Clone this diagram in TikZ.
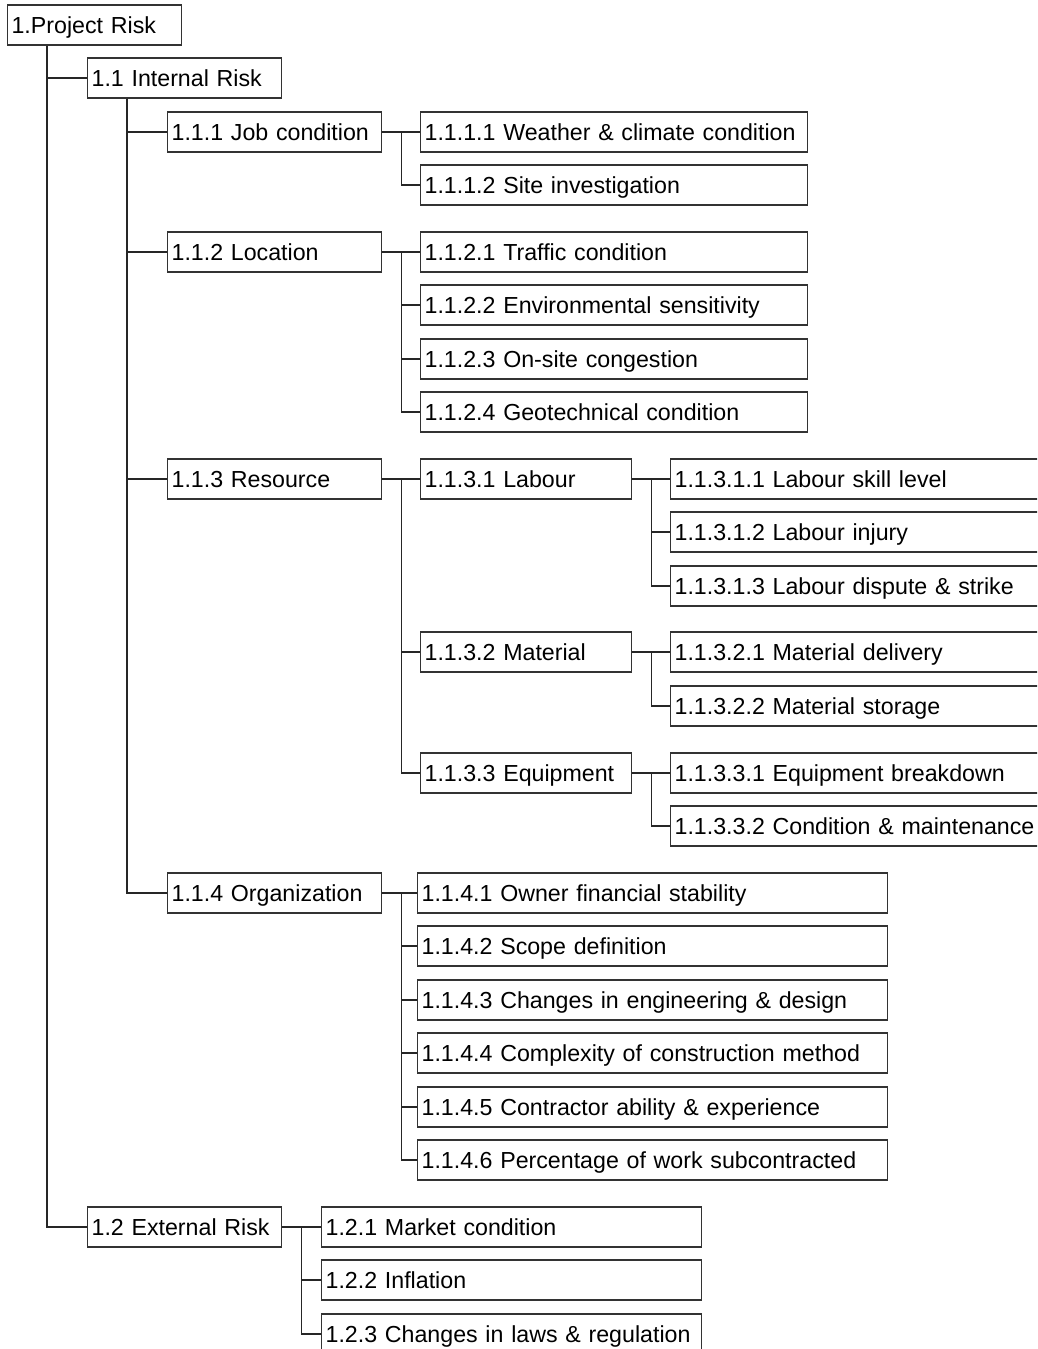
\documentclass[tikz,border=0pt]{standalone}
\usepackage{fontspec}
\setmainfont{Liberation Sans}
\begin{document}
\begin{tikzpicture}[x=1pt, y=-1pt,
  box/.style={draw=black!80, line width=1.2pt, fill=white, anchor=west, align=left,
    text width=#1, inner xsep=4pt, inner ysep=0pt, minimum height=40pt,
    text height=18pt, text depth=2pt, font=\fontsize{23.2}{26}\selectfont},
  link/.style={draw=black!85, line width=1.2pt}]
  \useasboundingbox (0,0) rectangle (1037,1349);
  \clip (0,0) rectangle (1037,1349);
  % top levels
  \node[box=166pt] (proj) at (7,25) {1.Project Risk};
  \node[box=186pt] (int) at (87,78) {1.1 Internal Risk};
  \node[box=186pt] (ext) at (87,1227) {1.2 External Risk};
  \foreach \n in {int,ext}
    \draw[link] ([xshift=40pt]proj.south west) |- (\n.west);
  \foreach \n/\y/\txt in {job/132/1.1.1 Job condition, loc/252/1.1.2 Location,
      res/479/1.1.3 Resource, org/893/1.1.4 Organization} {
    \node[box=206pt] (\n) at (167,\y) {\txt};
    \draw[link] ([xshift=40pt]int.south west) |- (\n.west);
  }
  % job condition
  \foreach \n/\y/\txt in {job1/132/1.1.1.1 Weather \& climate condition,
      job2/185/1.1.1.2 Site investigation} {
    \node[box=379pt] (\n) at (420,\y) {\txt};
    \draw[link] (job.east) -- ++(19,0) |- (\n.west);
  }
  % location
  \foreach \n/\y/\txt in {loc1/252/1.1.2.1 Traffic condition,
      loc2/305/1.1.2.2 Environmental sensitivity,
      loc3/359/1.1.2.3 On-site congestion,
      loc4/412/1.1.2.4 Geotechnical condition} {
    \node[box=379pt] (\n) at (420,\y) {\txt};
    \draw[link] (loc.east) -- ++(19,0) |- (\n.west);
  }
  % resource
  \foreach \n/\y/\txt in {lab/479/1.1.3.1 Labour, mat/652/1.1.3.2 Material,
      equ/773/1.1.3.3 Equipment} {
    \node[box=203pt] (\n) at (420,\y) {\txt};
    \draw[link] (res.east) -- ++(19,0) |- (\n.west);
  }
  \foreach \p/\n/\y/\txt in {lab/lab1/479/1.1.3.1.1 Labour skill level,
      lab/lab2/532/1.1.3.1.2 Labour injury,
      lab/lab3/586/1.1.3.1.3 Labour dispute \& strike,
      mat/mat1/652/1.1.3.2.1 Material delivery,
      mat/mat2/706/1.1.3.2.2 Material storage,
      equ/equ1/773/1.1.3.3.1 Equipment breakdown,
      equ/equ2/826/1.1.3.3.2 Condition \& maintenance} {
    \node[box=392pt] (\n) at (670,\y) {\txt};
    \draw[link] (\p.east) -- ++(19,0) |- (\n.west);
  }
  % organization
  \foreach \n/\y/\txt in {org1/893/1.1.4.1 Owner financial stability,
      org2/946/1.1.4.2 Scope definition,
      org3/1000/1.1.4.3 Changes in engineering \& design,
      org4/1053/1.1.4.4 Complexity of construction method,
      org5/1107/1.1.4.5 Contractor ability \& experience,
      org6/1160/1.1.4.6 Percentage of work subcontracted} {
    \node[box=462pt] (\n) at (417,\y) {\txt};
    \draw[link] (org.east) -- ++(19,0) |- (\n.west);
  }
  % external
  \foreach \n/\y/\txt in {ext1/1227/1.2.1 Market condition,
      ext2/1280/1.2.2 Inflation,
      ext3/1334/1.2.3 Changes in laws \& regulation} {
    \node[box=372pt] (\n) at (321,\y) {\txt};
    \draw[link] (ext.east) -- ++(19,0) |- (\n.west);
  }
\end{tikzpicture}
\end{document}
